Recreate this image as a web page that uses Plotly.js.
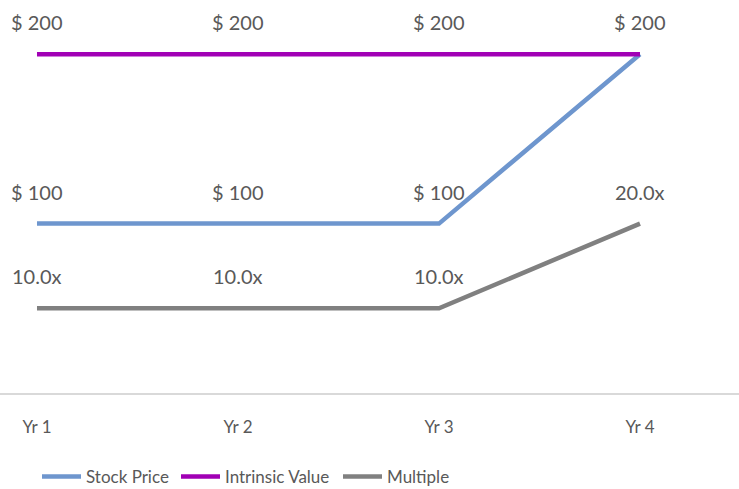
<!DOCTYPE html>
<html><head><meta charset="utf-8">
<script src="https://cdn.plot.ly/plotly-3.0.1.min.js"></script>
<style>html,body{margin:0;padding:0;background:#fff}#chart{width:739px;height:489px}</style>
</head><body><div id="chart"></div>
<script>
const years = ["Yr 1", "Yr 2", "Yr 3", "Yr 4"];
const stockPrice = [100, 100, 100, 200];
const intrinsicValue = [200, 200, 200, 200];
const multiple = [10, 10, 10, 20];

const FONT = "Lato, 'Open Sans', sans-serif";
const TXT = "#595959";

const traces = [
  {x: years, y: stockPrice, name: "Stock Price", mode: "lines", line: {color: "#6E96CE", width: 4.5}, yaxis: "y", legend: "legend"},
  {x: years, y: intrinsicValue, name: "Intrinsic Value", mode: "lines", line: {color: "#A100B5", width: 4.5}, yaxis: "y", legend: "legend2"},
  {x: years, y: multiple, name: "Multiple", mode: "lines", line: {color: "#808080", width: 4.5}, yaxis: "y2", legend: "legend3"}
];

const annotations = [];
const seen = new Set();
function addLabels(vals, axis, fmt) {
  vals.forEach((v, i) => {
    const t = fmt(v);
    const key = years[i] + "|" + t;
    if (seen.has(key)) return;
    seen.add(key);
    annotations.push({
      x: years[i], y: v, xref: "x", yref: axis, text: t, showarrow: false,
      yshift: 32, font: {family: FONT, size: 20, color: TXT}
    });
  });
}
addLabels(intrinsicValue, "y", v => "$ " + v);
addLabels(stockPrice, "y", v => "$ " + v);
addLabels(multiple, "y2", v => v.toFixed(1) + "x");

function leg(xpx) {
  return {orientation: "h", x: xpx/739, xanchor: "left", y: -0.2137, yanchor: "middle",
          font: {family: FONT, size: 17, color: TXT}, itemwidth: 39, bgcolor: "rgba(0,0,0,0)"};
}

const layout = {
  width: 739, height: 489,
  margin: {l: 0, r: 0, t: 0, b: 96, autoexpand: false},
  paper_bgcolor: "#fff", plot_bgcolor: "#fff",
  font: {family: FONT, color: TXT},
  showlegend: true,
  legend: leg(37), legend2: leg(176), legend3: leg(338),
  xaxis: {type: "category", range: [-0.184, 3.4925], showgrid: false, zeroline: false,
          showline: true, linecolor: "#D9D9D9", linewidth: 1.5,
          ticks: "outside", ticklen: 18, tickcolor: "rgba(0,0,0,0)",
          tickfont: {family: FONT, size: 17, color: TXT}},
  yaxis: {range: [0, 232], visible: false, fixedrange: true},
  yaxis2: {range: [0, 46.4], overlaying: "y", side: "right", visible: false},
  annotations: annotations
};
Plotly.newPlot("chart", traces, layout, {displayModeBar: false, staticPlot: true});
</script></body></html>
